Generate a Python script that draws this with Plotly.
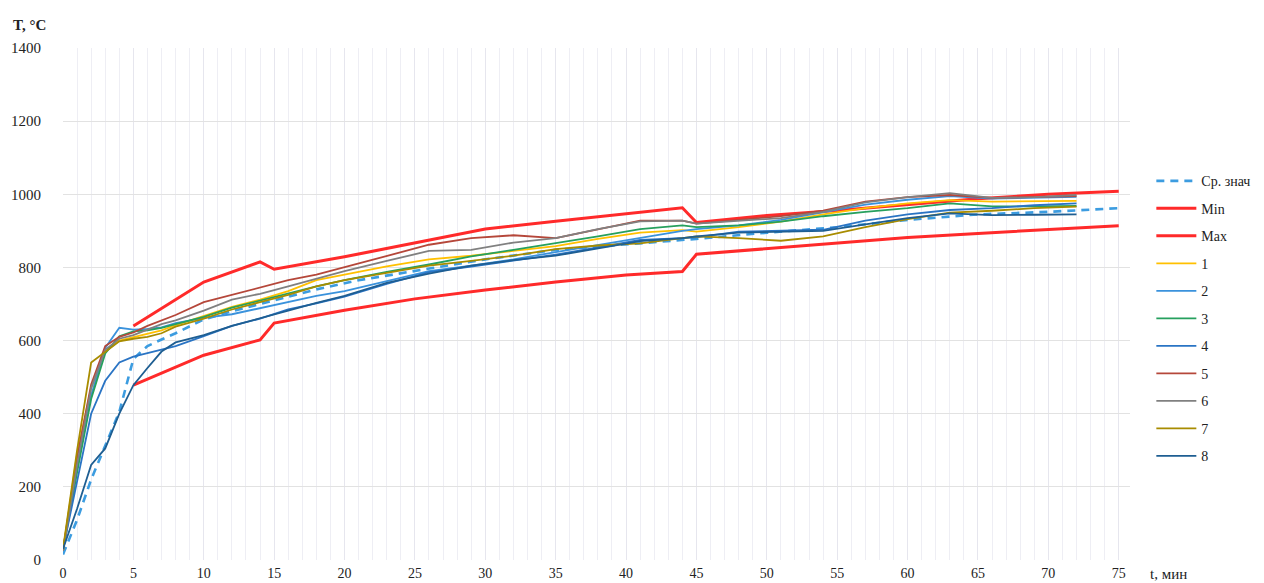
import plotly.graph_objects as go

# ---- data ----
t_series = [0, 1, 2, 3, 4, 5, 6, 7, 8, 10, 12, 14, 16, 18, 20, 23, 26, 29, 32, 35,
            38, 41, 44, 45, 48, 51, 54, 57, 60, 63, 66, 69, 72]
s1 = [25, 290, 470, 570, 600, 610, 618, 628, 642, 668, 692, 712, 735, 765, 780, 803, 822, 832, 845, 858,
      878, 895, 902, 898, 910, 925, 945, 962, 975, 984, 980, 981, 982]
s2 = [30, 250, 450, 580, 635, 630, 632, 636, 648, 662, 672, 688, 705, 722, 735, 762, 790, 805, 822, 842,
      862, 882, 900, 905, 915, 930, 950, 972, 985, 995, 988, 990, 993]
s3 = [25, 240, 440, 565, 612, 625, 628, 635, 645, 665, 690, 710, 728, 748, 765, 788, 808, 830, 848, 866,
      885, 905, 915, 910, 915, 925, 940, 952, 962, 975, 967, 967, 968]
s4 = [30, 215, 400, 490, 540, 556, 565, 575, 585, 612, 640, 660, 685, 702, 720, 755, 787, 802, 818, 835,
      855, 875, 880, 882, 898, 900, 903, 928, 945, 957, 962, 970, 975]
s5 = [25, 280, 480, 585, 610, 622, 640, 655, 670, 705, 725, 745, 765, 780, 800, 830, 862, 880, 888, 880,
      905, 928, 928, 920, 930, 940, 955, 980, 992, 998, 990, 992, 995]
s6 = [25, 260, 470, 575, 605, 615, 630, 645, 655, 682, 712, 728, 748, 770, 790, 818, 845, 848, 868, 880,
      905, 926, 928, 920, 928, 935, 952, 978, 992, 1003, 990, 992, 998]
s7 = [30, 300, 540, 570, 598, 605, 610, 620, 638, 660, 685, 705, 725, 748, 765, 785, 805, 818, 832, 850,
      860, 866, 880, 885, 880, 873, 885, 910, 932, 950, 955, 962, 966]
s8 = [30, 140, 260, 305, 400, 478, 525, 570, 595, 615, 640, 660, 682, 703, 722, 758, 783, 805, 820, 832,
      852, 872, 880, 885, 895, 898, 900, 918, 935, 948, 943, 944, 945]

t_avg = [0, 1, 2, 3, 4, 5, 6, 7, 8, 10, 12, 15, 18, 21, 25, 30, 35, 40, 45, 50, 55, 60, 65, 70, 75]
avg = [15, 110, 220, 315, 405, 550, 585, 603, 620, 658, 680, 710, 740, 765, 790, 822, 848, 862, 878,
       895, 910, 930, 945, 952, 962]

t_lim = [5, 10, 14, 15, 20, 25, 30, 35, 40, 44, 45, 50, 55, 60, 65, 70, 75]
t_min = [478, 560, 602, 648, 683, 714, 738, 760, 779, 789, 836, 852, 867, 882, 893, 903, 914]
t_max = [640, 760, 815, 795, 829, 868, 905, 926, 947, 963, 923, 942, 956, 972, 988, 1000, 1008]

x_ticks = list(range(0, 80, 5))
y_ticks = list(range(0, 1600, 200))

# ---- figure ----
fig = go.Figure()

def add(x, y, name, color, width, dash=None, group=""):
    fig.add_trace(go.Scatter(
        x=x, y=y, mode="lines", name=name, legendgroup=group,
        line=dict(color=color, width=width, dash=dash),
    ))

add(t_avg, avg, "Ср. знач", "#3C9CE0", 2.6, "8px,6px", "a")
add(t_lim, t_min, "Min", "#FF2A2A", 3, None, "b")
add(t_lim, t_max, "Max", "#FF2A2A", 3, None, "c")
series = [(s1, "1", "#FFC000"), (s2, "2", "#3A92DC"), (s3, "3", "#26A05E"),
          (s4, "4", "#2A74C4"), (s5, "5", "#B5473A"), (s6, "6", "#808080"),
          (s7, "7", "#A88C00"), (s8, "8", "#1E5E92")]
for vals, nm, col in series:
    add(t_series, vals, nm, col, 1.8, None, "s" + nm)

# page body has an 8px margin; figure sized so the plot lands where the reference has it
fig.update_layout(
    width=1256, height=575,
    margin=dict(l=55, r=134, t=40, b=23, autoexpand=False),
    paper_bgcolor="white", plot_bgcolor="white",
    font=dict(family="Liberation Serif", size=15, color="#222"),
    showlegend=True,
    legend=dict(
        x=1.02, xanchor="left", y=0.771, yanchor="top",
        traceorder="grouped", tracegroupgap=6.3, itemwidth=40,
        font=dict(family="Liberation Serif", size=14, color="#222"),
        bgcolor="rgba(0,0,0,0)",
    ),
    xaxis=dict(
        range=[0, 75.8], tickvals=x_ticks, ticktext=[str(v) for v in x_ticks],
        showgrid=True, gridcolor="#e6e6ee", gridwidth=1,
        minor=dict(dtick=1, showgrid=True, gridcolor="#eeeef4", gridwidth=1),
        zeroline=False, showline=False, ticks="",
        ticklabelstandoff=3, tickfont=dict(size=14),
    ),
    yaxis=dict(
        range=[0, 1400], tickvals=y_ticks, ticktext=[str(v) for v in y_ticks],
        showgrid=True, gridcolor="#e2e2e2", gridwidth=1,
        zeroline=False, showline=False, ticks="",
        ticklabelstandoff=21,
    ),
    annotations=[
        dict(text="<b>T, °C</b>", xref="paper", yref="paper", x=-0.0485, y=1.045,
             xanchor="left", yanchor="middle", showarrow=False,
             font=dict(family="Liberation Serif", size=15, color="#222")),
        dict(text="t, мин", xref="paper", yref="paper", x=1.017, y=-0.027,
             xanchor="left", yanchor="middle", showarrow=False,
             font=dict(family="Liberation Serif", size=15, color="#222")),
    ],
)

fig.write_html("out.html")
